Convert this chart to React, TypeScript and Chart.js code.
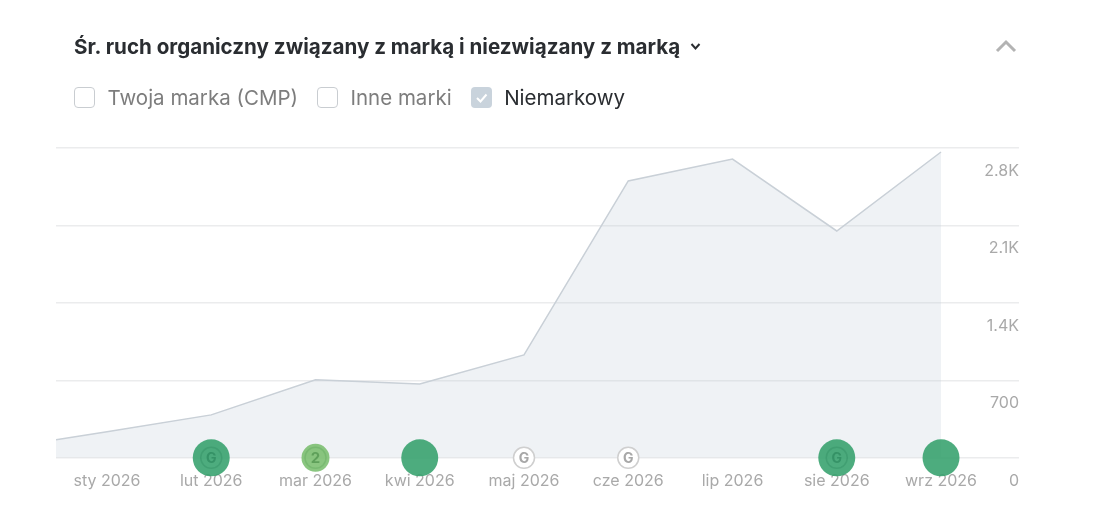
import React, { useEffect, useRef } from "react";
import { Chart, registerables } from "chart.js";

Chart.register(...registerables);

const title = "Śr. ruch organiczny związany z marką i niezwiązany z marką";
const legendItems = ["Twoja marka (CMP)", "Inne marki", "Niemarkowy"];
const legendChecked = [false, false, true];

const months = ["sty 2026", "lut 2026", "mar 2026", "kwi 2026", "maj 2026", "cze 2026", "lip 2026", "sie 2026", "wrz 2026"];
const monthIndex = [-0.489, 0, 1, 2, 3, 4, 5, 6, 7, 8];
const nonBrand = [162, 235, 388, 705, 668, 930, 2502, 2700, 2050, 2764];
const yTickValues = [0, 700, 1400, 2100, 2800];
const yTickLabels = ["0", "700", "1.4K", "2.1K", "2.8K"];

const eventMonth = [1, 2, 3, 4, 5, 7, 8];
const eventKind = ["bigG", "count", "big", "smallG", "smallG", "bigG", "big"];
const eventCountLabel = "2";

const FONT = "Inter, 'Noto Sans', sans-serif";

const kindStyle: Record<string, { r: number; fill: string; border: string; bw: number }> = {
  bigG: { r: 18.5, fill: "rgba(52,160,108,0.88)", border: "rgba(52,160,108,0.88)", bw: 0 },
  big: { r: 18.5, fill: "rgba(52,160,108,0.88)", border: "rgba(52,160,108,0.88)", bw: 0 },
  count: { r: 14, fill: "rgba(122,190,110,0.88)", border: "rgba(122,190,110,0.88)", bw: 0 },
  smallG: { r: 10.5, fill: "#ffffff", border: "#cfcfcf", bw: 1.5 },
};

const eventGlyphs = {
  id: "eventGlyphs",
  afterDatasetsDraw(chart: any) {
    const meta = chart.getDatasetMeta(1);
    const ctx = chart.ctx;
    ctx.save();
    ctx.textAlign = "center";
    ctx.textBaseline = "middle";
    meta.data.forEach((pt: any, i: number) => {
      const kind = eventKind[i];
      if (kind === "bigG") {
        ctx.strokeStyle = "rgba(20,110,70,0.2)";
        ctx.lineWidth = 1.5;
        ctx.beginPath();
        ctx.arc(pt.x, pt.y, 10.5, 0, Math.PI * 2);
        ctx.stroke();
        ctx.fillStyle = "rgba(20,110,70,0.4)";
        ctx.font = `700 14px ${FONT}`;
        ctx.fillText("G", pt.x, pt.y + 0.5);
      } else if (kind === "count") {
        ctx.strokeStyle = "rgba(70,150,70,0.25)";
        ctx.lineWidth = 1.5;
        ctx.beginPath();
        ctx.arc(pt.x, pt.y, 10.5, 0, Math.PI * 2);
        ctx.stroke();
        ctx.fillStyle = "rgba(60,130,60,0.55)";
        ctx.font = `700 15px ${FONT}`;
        ctx.fillText(eventCountLabel, pt.x, pt.y + 0.5);
      } else if (kind === "smallG") {
        ctx.fillStyle = "#a8a8a8";
        ctx.font = `700 14px ${FONT}`;
        ctx.fillText("G", pt.x, pt.y + 0.5);
      }
    });
    ctx.restore();
  },
};

function Check({ on }: { on: boolean }) {
  return (
    <span
      style={{
        display: "inline-block",
        boxSizing: "border-box",
        width: 21,
        height: 21,
        borderRadius: 4,
        border: on ? "none" : "1px solid #c9cdd1",
        background: on ? "#c9d3dc" : "#fff",
        position: "relative",
        flex: "none",
      }}
    >
      {on && (
        <svg width="21" height="21" style={{ position: "absolute", left: 0, top: 0 }}>
          <path d="M6 11 L9.5 14.5 L15.5 7.5" fill="none" stroke="#fff" strokeWidth="2" />
        </svg>
      )}
    </span>
  );
}

export default function App() {
  const ref = useRef<HTMLCanvasElement>(null);
  useEffect(() => {
    const chart = new Chart(ref.current!, {
      type: "line",
      data: {
        datasets: [
          {
            data: monthIndex.map((x, i) => ({ x, y: nonBrand[i] })),
            order: 1,
            borderColor: "#c9d0d7",
            borderWidth: 1.5,
            backgroundColor: "rgba(190,203,214,0.25)",
            fill: "origin",
            pointRadius: 0,
            tension: 0,
          },
          {
            data: eventMonth.map((x) => ({ x, y: 0 })),
            order: 0,
            showLine: false,
            clip: false,
            pointRadius: eventKind.map((k) => kindStyle[k].r),
            pointHoverRadius: eventKind.map((k) => kindStyle[k].r),
            pointBackgroundColor: eventKind.map((k) => kindStyle[k].fill),
            pointBorderColor: eventKind.map((k) => kindStyle[k].border),
            pointBorderWidth: eventKind.map((k) => kindStyle[k].bw),
          } as any,
        ],
      },
      options: {
        animation: false,
        responsive: false,
        layout: { padding: { left: 56, right: 80, top: 148, bottom: 23 } },
        plugins: { legend: { display: false }, tooltip: { enabled: false } },
        scales: {
          x: {
            type: "linear",
            min: -0.489,
            max: 8.748,
            grid: { display: false },
            border: { display: false },
            ticks: {
              stepSize: 1,
              includeBounds: false,
              autoSkip: false,
              maxRotation: 0,
              padding: 6,
              color: "#a9a9a9",
              font: { family: FONT, size: 16 },
              callback: (v: any) => months[v] ?? "",
            },
          },
          y: {
            position: "right",
            min: 0,
            max: 2800,
            afterBuildTicks: (s: any) => {
              s.ticks = yTickValues.map((value) => ({ value }));
            },
            grid: { color: "#ebeced", lineWidth: 1.5, drawTicks: false },
            border: { display: false },
            ticks: {
              mirror: true,
              padding: 0,
              labelOffset: 23,
              color: "#a9a9a9",
              font: { family: FONT, size: 16 },
              callback: (v: any) => yTickLabels[yTickValues.indexOf(v)] ?? "",
            },
          },
        },
      } as any,
      plugins: [eventGlyphs],
    });
    return () => chart.destroy();
  }, []);

  return (
    <div style={{ position: "fixed", left: 0, top: 0, width: 1099, height: 520, background: "#fff", fontFamily: FONT, overflow: "hidden" }}>
      <canvas ref={ref} width={1099} height={520} style={{ position: "absolute", left: 0, top: 0 }} />
      <div style={{ position: "absolute", left: 74, top: 34, fontSize: 20.6, fontWeight: 700, color: "#2a2d31", whiteSpace: "nowrap", lineHeight: "26px" }}>
        {title}
      </div>
      <svg width="12" height="10" style={{ position: "absolute", left: 690, top: 42 }}>
        <path d="M1.5 2 L5.5 6.5 L9.5 2" fill="none" stroke="#2a2d31" strokeWidth="2" />
      </svg>
      <svg width="24" height="16" style={{ position: "absolute", left: 994, top: 38 }}>
        <path d="M3 13 L12 4 L21 13" fill="none" stroke="#b3b3b3" strokeWidth="3" />
      </svg>
      <div style={{ position: "absolute", left: 74, top: 87, display: "flex", alignItems: "center", height: 21 }}>
        {legendItems.map((t, i) => (
          <React.Fragment key={t}>
            <Check on={legendChecked[i]} />
            <span style={{ marginLeft: 12.5, marginRight: 19, fontSize: 20.5, color: legendChecked[i] ? "#2a2d31" : "#7d7d7d", whiteSpace: "nowrap" }}>{t}</span>
          </React.Fragment>
        ))}
      </div>
    </div>
  );
}
